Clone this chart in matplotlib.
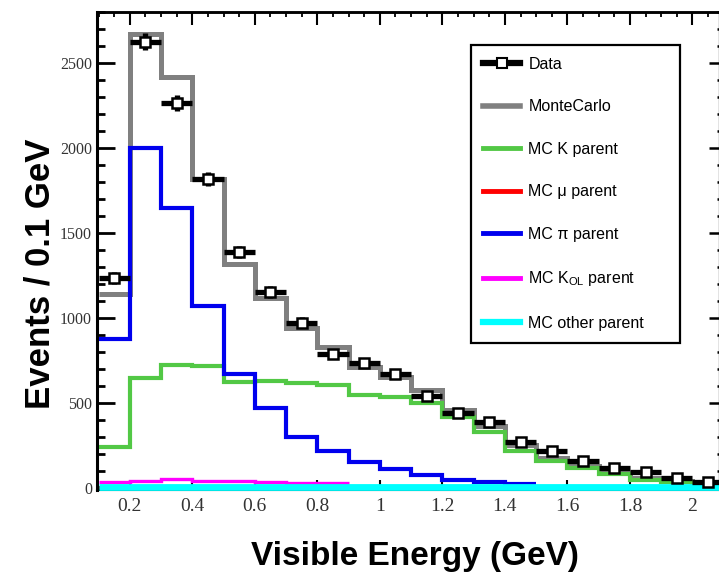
import numpy as np
import matplotlib.pyplot as plt
from matplotlib.lines import Line2D
from matplotlib.ticker import MultipleLocator

plt.rcParams['font.family'] = ['Liberation Sans', 'DejaVu Sans']
plt.rcParams['mathtext.default'] = 'regular'

# bin edges in visible energy (GeV)
edges = [0.1, 0.2, 0.3, 0.4, 0.5, 0.6, 0.7, 0.8, 0.9, 1.0, 1.1,
         1.2, 1.3, 1.4, 1.5, 1.6, 1.7, 1.8, 1.9, 2.0, 2.1]

# events per bin
data = [1235, 2625, 2265, 1818, 1390, 1155, 973, 792, 735, 671,
        545, 440, 390, 272, 218, 160, 118, 95, 62, 38]
mc_total = [1140, 2670, 2420, 1820, 1320, 1120, 945, 830, 715, 655,
            578, 462, 365, 255, 180, 132, 92, 62, 42, 22]
mc_k = [240, 650, 724, 718, 625, 631, 620, 610, 546, 535,
        502, 417, 330, 222, 160, 120, 82, 47, 35, 18]
mc_mu = [5, 6, 6, 5, 5, 5, 4, 4, 4, 3,
         3, 3, 3, 2, 2, 2, 2, 1, 1, 1]
mc_pi = [875, 2000, 1650, 1070, 670, 470, 302, 222, 155, 116,
         80, 48, 35, 28]
mc_k0l = [35, 42, 52, 45, 42, 35, 33, 33]
mc_other = [6, 6, 6, 6, 6, 6, 6, 6, 6, 6,
            6, 6, 6, 6, 6, 6, 6, 6, 6, 6]

xticks = [0.2, 0.4, 0.6, 0.8, 1.0, 1.2, 1.4, 1.6, 1.8, 2.0]
xticklabels = ['0.2', '0.4', '0.6', '0.8', '1', '1.2', '1.4', '1.6', '1.8', '2']
yticks = [0, 500, 1000, 1500, 2000, 2500]
yticklabels = ['0', '500', '1000', '1500', '2000', '2500']

fig = plt.figure(figsize=(7.19, 5.77), dpi=100)
ax = fig.add_axes([0.1349, 0.1508, 0.8651, 0.8284])

ax.stairs(mc_total, edges, baseline=None, color='#808080', lw=3.6, zorder=2)
ax.stairs(mc_k, edges, baseline=None, color='#52c845', lw=3.0, zorder=3)
ax.stairs(mc_mu, edges, baseline=None, color='#ff0000', lw=2.5, zorder=3.2)
ax.stairs(mc_pi, edges[:len(mc_pi) + 1], baseline=None, color='#0000ee', lw=3.0, zorder=3.5)
ax.stairs(mc_k0l, edges[:len(mc_k0l) + 1], baseline=None, color='#ff00ff', lw=2.4, zorder=3.8)
ax.stairs(mc_other, edges, baseline=None, color='#00ffff', lw=4.9, zorder=4, clip_on=False)

centers = [(a + b) / 2 for a, b in zip(edges[:-1], edges[1:])]
half_w = [(b - a) / 2 for a, b in zip(edges[:-1], edges[1:])]
ax.errorbar(centers, data, xerr=half_w, yerr=np.sqrt(data), fmt='s', ms=7,
            mfc='white', mec='black', mew=1.8, ecolor='black',
            elinewidth=3.8, capsize=0, zorder=6)

ax.set_xlim(0.095, 2.085)
ax.set_ylim(-10, 2800)

ax.set_xticks(xticks, xticklabels, fontfamily='Liberation Serif')
ax.set_yticks(yticks, yticklabels, fontfamily='Liberation Serif')
ax.xaxis.set_minor_locator(MultipleLocator(0.05))
ax.yaxis.set_minor_locator(MultipleLocator(100))
ax.tick_params(which='both', direction='in', top=False, right=False)
ax.tick_params(axis='x', which='major', length=7, width=1.5, pad=5.5,
               labelsize=14, labelcolor='#333333')
ax.tick_params(axis='x', which='minor', length=3, width=1.3)
ax.tick_params(axis='y', which='major', length=13, width=2, pad=3.6,
               labelsize=11.5, labelcolor='#333333')
ax.tick_params(axis='y', which='minor', length=5.8, width=2)

# separate top and right axes so their ticks can be shorter
secx = ax.secondary_xaxis('top')
secx.set_xticks(xticks)
secx.xaxis.set_minor_locator(MultipleLocator(0.05))
secx.tick_params(which='major', direction='in', length=9.5, width=1.5, labeltop=False)
secx.tick_params(which='minor', direction='in', length=3.6, width=1.3)
secx.spines['top'].set_linewidth(1.8)

secy = ax.secondary_yaxis('right')
secy.set_yticks(yticks)
secy.yaxis.set_minor_locator(MultipleLocator(100))
secy.tick_params(which='major', direction='in', length=7.2, width=1.8, labelright=False)
secy.tick_params(which='minor', direction='in', length=1.4, width=1.8)

ax.spines['left'].set_linewidth(2.2)
ax.spines['top'].set_linewidth(1.8)
ax.spines['bottom'].set_linewidth(1.5)

fig.text(50 / 719, 1 - 274 / 577, 'Events / 0.1 GeV', rotation=90,
         rotation_mode='anchor', ha='center', va='baseline',
         fontsize=25, fontweight='bold')
fig.text(414.5 / 719, 1 - 565 / 577, 'Visible Energy (GeV)', ha='center',
         va='baseline', fontsize=24, fontweight='bold')

handles = [
    Line2D([], [], color='black', lw=4.5, marker='s', ms=7, mfc='white', mec='black', mew=1.5),
    Line2D([], [], color='#808080', lw=4),
    Line2D([], [], color='#52c845', lw=3.5),
    Line2D([], [], color='#ff0000', lw=3.5),
    Line2D([], [], color='#0000ee', lw=3.5),
    Line2D([], [], color='#ff00ff', lw=3.5),
    Line2D([], [], color='#00ffff', lw=4.5),
]
labels = ['Data', 'MonteCarlo', 'MC K parent', 'MC μ parent', 'MC π parent',
          'MC K$_{OL}$ parent', 'MC other parent']
leg = ax.legend(handles, labels, loc='upper left',
                bbox_to_anchor=(0.601, 0.310, 0.336, 0.621), mode='expand',
                borderaxespad=0, fontsize=11.5, handlelength=2.35,
                handletextpad=0.5, labelspacing=1.72, borderpad=0.75,
                fancybox=False, frameon=True, edgecolor='black', framealpha=1)
leg.get_frame().set_linewidth(1.6)
leg.set_zorder(10)

fig.savefig('out.png', dpi=100)
